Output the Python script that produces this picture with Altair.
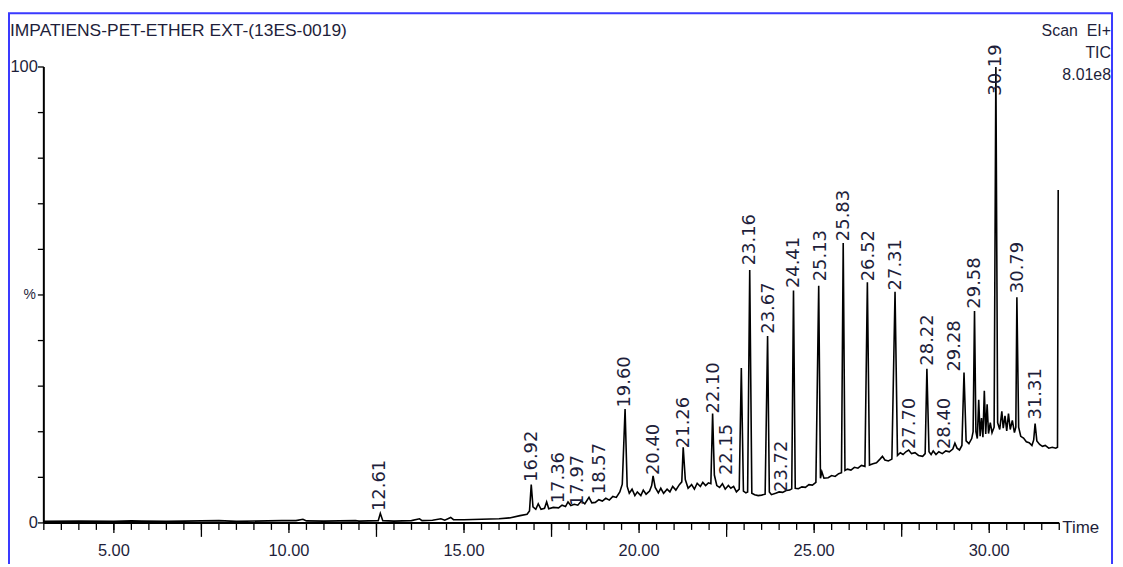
import altair as alt
import pandas as pd

title_text = "IMPATIENS-PET-ETHER EXT-(13ES-0019)"
corner_lines = ["Scan\u00a0\u00a0EI+", "TIC", "8.01e8"]
x_axis_title = "Time"

# chromatogram trace (retention time in minutes, relative intensity %)
times = [
    3.0, 4.0, 5.0, 5.5, 5.8, 6.5, 7.5, 8.0, 8.5, 9.4, 9.8, 10.2, 10.4, 10.5, 11.0, 11.9, 12.0,
    12.55, 12.61, 12.68, 13.0, 13.5, 13.73, 13.8, 14.1, 14.34, 14.45, 14.62, 14.7, 15.0, 15.5,
    16.0, 16.3, 16.6, 16.8, 16.87, 16.92, 16.97, 17.05, 17.12, 17.2, 17.3, 17.36, 17.42, 17.55,
    17.7, 17.8, 17.9, 17.97, 18.05, 18.15, 18.25, 18.35, 18.45, 18.57, 18.65, 18.75, 18.85,
    18.95, 19.05, 19.15, 19.25, 19.35, 19.45, 19.52, 19.60, 19.66, 19.72, 19.8, 19.88, 19.95,
    20.05, 20.12, 20.2, 20.3, 20.36, 20.40, 20.46, 20.55, 20.62, 20.7, 20.8, 20.88, 20.96,
    21.05, 21.15, 21.22, 21.26, 21.32, 21.4, 21.5, 21.58, 21.66, 21.75, 21.82, 21.9, 21.98,
    22.05, 22.10, 22.15, 22.22, 22.3, 22.38, 22.46, 22.55, 22.62, 22.7, 22.78, 22.86, 22.92,
    22.98, 23.05, 23.1, 23.16, 23.22, 23.3, 23.4, 23.5, 23.6, 23.67, 23.72, 23.78, 23.9, 24.0,
    24.1, 24.2, 24.3, 24.36, 24.41, 24.46, 24.55, 24.65, 24.75, 24.85, 24.95, 25.05, 25.13,
    25.18, 25.22, 25.28, 25.4, 25.5, 25.6, 25.7, 25.78, 25.83, 25.88, 25.95, 26.05, 26.15,
    26.25, 26.35, 26.45, 26.52, 26.58, 26.68, 26.78, 26.88, 26.95, 27.02, 27.12, 27.22, 27.31,
    27.38, 27.46, 27.54, 27.62, 27.70, 27.78, 27.88, 27.98, 28.1, 28.17, 28.22, 28.28, 28.34,
    28.40, 28.48, 28.56, 28.66, 28.76, 28.86, 28.96, 29.02, 29.08, 29.15, 29.22, 29.28, 29.34,
    29.42, 29.5, 29.54, 29.58, 29.62, 29.66, 29.7, 29.74, 29.78, 29.82, 29.86, 29.9, 29.94,
    29.98, 30.03, 30.08, 30.14, 30.19, 30.24, 30.3, 30.36, 30.4, 30.45, 30.5, 30.55, 30.6,
    30.66, 30.72, 30.76, 30.79, 30.84, 30.9, 30.98, 31.06, 31.14, 31.22, 31.27, 31.31, 31.36,
    31.44, 31.52, 31.6, 31.7, 31.8, 31.9, 31.95, 31.97,
]
intensity = [
    0.35, 0.4, 0.35, 0.45, 0.4, 0.35, 0.45, 0.5, 0.35, 0.45, 0.5, 0.5, 0.8, 0.45, 0.4, 0.5, 0.4,
    0.5, 2.1, 0.5, 0.4, 0.5, 0.9, 0.5, 0.6, 0.9, 0.6, 1.2, 0.7, 0.7, 0.8,
    0.9, 1.1, 1.6, 1.9, 2.6, 8.4, 3.5, 3.0, 4.2, 3.0, 3.2, 4.6, 3.1, 3.4,
    3.3, 3.9, 3.6, 4.6, 3.8, 4.1, 3.9, 4.8, 4.2, 5.6, 4.4, 4.5, 5.1,
    4.8, 5.4, 5.0, 5.8, 5.6, 6.8, 8.5, 25.0, 8.0, 6.5, 7.4, 6.0, 6.8,
    6.0, 7.2, 6.3, 7.0, 8.2, 10.3, 7.8, 6.6, 7.6, 6.5, 7.4, 6.8, 8.0,
    7.2, 8.4, 9.0, 16.6, 9.5, 7.6, 8.4, 7.4, 8.7, 8.0, 8.9, 8.2, 8.8,
    8.6, 24.0, 10.5, 8.2, 7.8, 8.6, 7.4, 8.2, 7.6, 8.0, 6.8, 7.4, 34.0,
    7.0, 6.6, 6.8, 55.5, 6.5, 6.2, 6.0, 6.1, 6.3, 41.0, 6.8, 6.2, 6.5, 6.8,
    6.7, 7.1, 7.2, 7.5, 51.0, 7.6, 7.5, 7.9, 7.8, 8.4, 8.3, 8.9, 52.0,
    9.8, 11.2, 9.8, 9.9, 10.4, 10.2, 10.8, 11.0, 61.4, 11.5, 11.8, 11.6, 12.2,
    12.0, 12.6, 12.4, 52.8, 12.7, 13.0, 13.2, 14.0, 14.6, 13.8, 13.6, 14.0, 50.7,
    14.8, 15.4, 15.0, 15.6, 16.0, 15.2, 15.4, 14.8, 14.6, 15.2, 33.8, 15.6, 15.0,
    15.8, 15.0, 15.6, 15.2, 15.8, 15.6, 16.2, 17.5, 16.4, 16.0, 17.0, 33.0, 18.0,
    17.4, 18.5, 20.0, 46.5, 20.0, 18.5, 27.0, 19.0, 23.0, 18.8, 29.0, 19.5, 26.0,
    19.6, 22.0, 19.8, 21.0, 100.0, 22.0, 20.5, 24.5, 20.8, 23.5, 20.2, 24.0, 20.5,
    22.5, 19.8, 21.0, 49.5, 21.0, 19.0, 18.6, 17.8, 17.6, 17.0, 18.2, 21.8, 18.0,
    17.2, 16.8, 17.0, 16.4, 16.6, 16.4, 16.6, 73.0,
]

# peak annotations: text, anchor time, anchor level (%)
peak_labels = ["12.61", "16.92", "17.36", "17.97", "18.57", "19.60", "20.40", "21.26", "22.10",
               "22.15", "23.16", "23.67", "23.72", "24.41", "25.13", "25.83", "26.52", "27.31",
               "27.70", "28.22", "28.40", "29.28", "29.58", "30.19", "30.79", "31.31"]
label_times = [12.61, 16.94, 17.72, 18.26, 18.88, 19.59, 20.42, 21.27, 22.15,
               22.50, 23.16, 23.70, 24.07, 24.43, 25.20, 25.85, 26.56, 27.33,
               27.75, 28.25, 28.75, 29.02, 29.60, 30.19, 30.82, 31.35]
label_levels = [2.6, 9.0, 4.3, 3.7, 6.3, 25.3, 10.5, 16.4, 24.0,
                10.5, 56.5, 41.5, 6.8, 51.5, 53.0, 61.8, 53.0, 51.0,
                16.2, 34.5, 16.2, 33.2, 47.0, 93.7, 50.4, 22.7]

# axis ticks and tick labels
x_label_values = [5, 10, 15, 20, 25, 30]
x_label_texts = ["5.00", "10.00", "15.00", "20.00", "25.00", "30.00"]
x_minor_ticks = [3 + 0.5 * i for i in range(59)]
x_long_ticks = [7.5, 12.5, 17.5, 22.5, 27.5]
y_tick_values = [0, 10, 20, 30, 40, 50, 60, 70, 80, 90, 100]
y_label_values = [0, 100]
y_label_texts = ["0", "100"]
y_unit_value = [50]
y_unit_text = ["%"]

W, H = 1020, 458
TXT = "#1e1e3a"
HFONT = "Liberation Sans"
VFONT = "DejaVu Sans"
PX_PER_PCT = H / 100.0
PX_PER_MIN = W / 29.0

x_scale = alt.Scale(domain=[3, 32], nice=False, zero=False)
y_scale = alt.Scale(domain=[0, 100], nice=False)


def X(field="t"):
    return alt.X(f"{field}:Q", scale=x_scale, axis=None)


def Y(field="y"):
    return alt.Y(f"{field}:Q", scale=y_scale, axis=None)


one = pd.DataFrame({"k": [0]})

border = alt.Chart(one).mark_rect(
    fillOpacity=0, stroke="#3a3aff", strokeWidth=2
).encode(x=alt.value(-35), x2=alt.value(1073), y=alt.value(-54), y2=alt.value(H + 200))

x_domain = alt.Chart(one).mark_rule(color="black", strokeWidth=2).encode(
    x=alt.value(0), x2=alt.value(W), y=alt.value(H)
)
y_domain = alt.Chart(one).mark_rule(color="black", strokeWidth=2).encode(
    x=alt.value(0), y=alt.value(0), y2=alt.value(H)
)

line = alt.Chart(pd.DataFrame({"t": times, "y": intensity})).mark_line(
    color="black", strokeWidth=1.6
).encode(x=X(), y=Y())


def xtick_layer(values, length_px):
    depth = -length_px / PX_PER_PCT
    return (
        alt.Chart(pd.DataFrame({"t": values}))
        .transform_calculate(a="0", b=str(depth))
        .transform_fold(["a", "b"], as_=["end", "yy"])
        .mark_line(color="black", strokeWidth=1.3)
        .encode(x=X("t"), y=Y("yy"), detail="t:Q")
    )


minor_ticks = xtick_layer(x_minor_ticks, 7)
mid_ticks = xtick_layer(x_label_values, 10)
long_ticks = xtick_layer(x_long_ticks, 14)

y_ticks = (
    alt.Chart(pd.DataFrame({"y": y_tick_values}))
    .transform_calculate(a="3", b=str(3 - 6 / PX_PER_MIN))
    .transform_fold(["a", "b"], as_=["end", "xx"])
    .mark_line(color="black", strokeWidth=1.3)
    .encode(x=X("xx"), y=Y("y"), detail="y:Q")
)

x_labels = alt.Chart(pd.DataFrame({"t": x_label_values, "txt": x_label_texts})).mark_text(
    align="center", baseline="middle", font=HFONT, fontSize=16.5, color=TXT
).encode(x=X(), y=alt.value(H + 28), text="txt:N")

y_labels = alt.Chart(pd.DataFrame({"y": y_label_values, "txt": y_label_texts})).mark_text(
    align="right", baseline="middle", font=HFONT, fontSize=16.5, color=TXT
).encode(y=Y(), x=alt.value(-6), text="txt:N")

y_unit = alt.Chart(pd.DataFrame({"y": y_unit_value, "txt": y_unit_text})).mark_text(
    align="right", baseline="middle", font=HFONT, fontSize=14, color=TXT
).encode(y=Y(), x=alt.value(-8), text="txt:N")

x_title = alt.Chart(one).mark_text(
    align="left", baseline="middle", font=HFONT, fontSize=17, color=TXT
).encode(x=alt.value(W + 3), y=alt.value(H + 5), text=alt.value(x_axis_title))

labels = alt.Chart(pd.DataFrame({"label": peak_labels, "t": label_times, "y": label_levels})).mark_text(
    angle=270, align="left", baseline="middle", font=VFONT, fontSize=18, color=TXT
).encode(x=X(), y=Y(), text="label:N")

title_mark = alt.Chart(one).mark_text(
    align="left", baseline="middle", font=HFONT, fontSize=17.5, color=TXT
).encode(x=alt.value(-34), y=alt.value(-36), text=alt.value(title_text))
corner_marks = [
    alt.Chart(one).mark_text(align="right", baseline="middle", font=HFONT, fontSize=16, color=TXT).encode(
        x=alt.value(1072), y=alt.value(yv), text=alt.value(txt)
    )
    for txt, yv in zip(corner_lines, [-36, -14, 8])
]

chart = alt.layer(
    border, line, x_domain, y_domain, minor_ticks, mid_ticks, long_ticks, y_ticks,
    x_labels, y_labels, y_unit, x_title, labels, title_mark, *corner_marks
).properties(
    width=W, height=H,
    padding={"left": 36, "top": 58, "right": 56, "bottom": 40},
    autosize=alt.AutoSizeParams(type="none"),
    background="white",
).configure_view(strokeWidth=0)

chart.save("out.html", embed_options={"renderer": "svg", "actions": False})
